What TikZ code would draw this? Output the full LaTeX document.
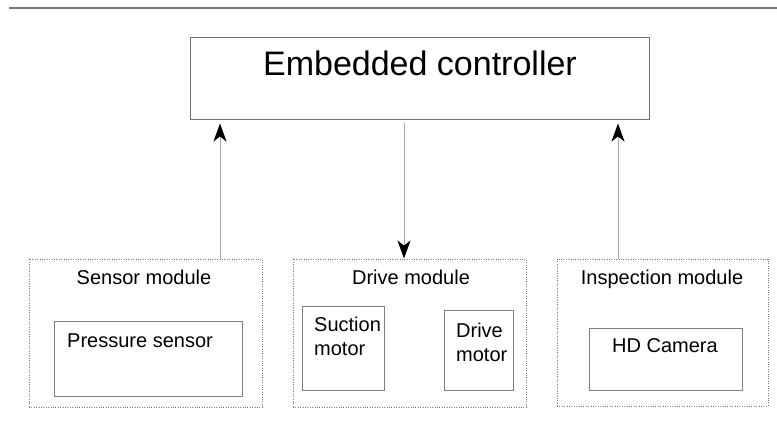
\documentclass[tikz,border=0pt]{standalone}
\usepackage{fontspec}
\setmainfont{Liberation Sans}
\usetikzlibrary{arrows.meta}
\definecolor{cRule}{HTML}{777777}
\definecolor{cBox} {HTML}{707070}
\definecolor{cPart}{HTML}{808080}
\definecolor{cMod} {HTML}{7A7A7A}
\definecolor{cLine}{HTML}{A8A8A8}

\begin{document}
\begin{tikzpicture}[
  x=1pt, y=-1pt,
  ctrlbox/.style={draw=cBox, line width=1pt, inner sep=0pt},
  modbox/.style={draw=cMod, line width=0.9pt, dash pattern=on 1pt off 1.4pt, inner sep=0pt},
  partbox/.style={draw=cPart, line width=1pt, inner sep=0pt},
  txt/.style={font=\fontsize{20}{23.5}\selectfont, inner sep=0pt, align=left},
  ar/.style={-{Stealth[length=18pt, width=13pt, inset=5pt, color=black]}, draw=cLine, line width=1pt},
]
\useasboundingbox (0,0) rectangle (777,445);

% rule across the top
\draw[cRule, line width=1.5pt] (9,8) -- (777,8);

% ---- controller
\node[ctrlbox, minimum width=459, minimum height=82] at (419.5,78) (ctrl) {};
\node[inner sep=0pt, anchor=base, font=\fontsize{34}{40}\selectfont] at (420,75) (ctrltxt) {Embedded controller};

% ---- sensor module
\node[modbox, minimum width=233, minimum height=148] at (145.5,333) (sensmod) {};
\node[txt, anchor=base] at (144,284) (senslbl) {Sensor module};
\node[partbox, minimum width=188, minimum height=75] at (148,358.5) (press) {};
\node[txt, anchor=base west] at (67,347) (presslbl) {Pressure sensor};

% ---- drive module (two-line labels: base is the last line)
\node[modbox, minimum width=233, minimum height=148] at (409.5,333) (drivemod) {};
\node[txt, anchor=base] at (411,284) (drivelbl) {Drive module};
\node[partbox, minimum width=82, minimum height=84] at (343,348) (suct) {};
\node[txt, anchor=base west] at (314,355) (suctlbl) {Suction\\motor};
\node[partbox, minimum width=69, minimum height=80] at (478.5,350) (dmot) {};
\node[txt, anchor=base west] at (456,361) (dmotlbl) {Drive\\motor};

% ---- inspection module
\node[modbox, minimum width=211, minimum height=147] at (662.5,332.5) (inspmod) {};
\node[txt, anchor=base] at (662,284) (insplbl) {Inspection module};
\node[partbox, minimum width=153, minimum height=62] at (665.5,359) (cam) {};
\node[txt, anchor=base west] at (612,352) (camlbl) {HD Camera};

% ---- arrows
\draw[ar, shorten >=4pt] ([xshift=74.5pt]sensmod.north) coordinate (sup) -- (sup |- ctrl.south);
\draw[ar, shorten <=3pt] ([xshift=-5.5pt]drivemod.north |- ctrl.south) -- ([xshift=-5.5pt]drivemod.north);
\draw[ar, shorten >=4pt] ([xshift=-44.5pt]inspmod.north) coordinate (iup) -- (iup |- ctrl.south);

\end{tikzpicture}
\end{document}
